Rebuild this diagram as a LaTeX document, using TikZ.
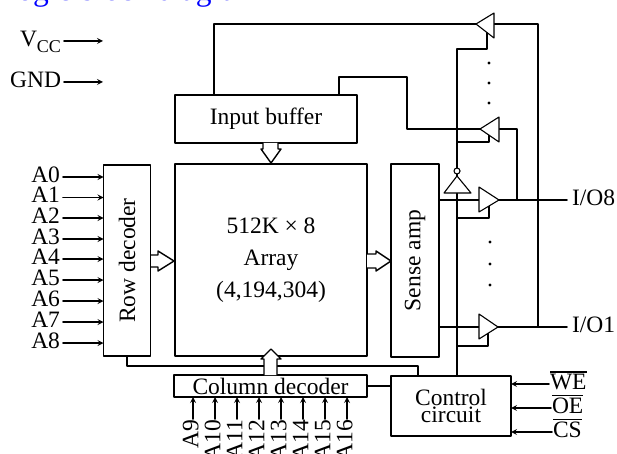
\documentclass[tikz,border=0pt]{standalone}
\usepackage{fontspec}
\setmainfont{Liberation Serif}
\newcommand{\barred}[1]{\vbox{\hrule height 1.7pt \kern 1.3pt \hbox{#1}}}
\tikzset{
	wire/.style={line width=1.6pt},
	bufshape/.style={line width=1.1pt, fill=white},
	hollow/.style={line width=1.4pt, fill=white},
	blockbox/.style={draw, line width=1.6pt, inner sep=0pt, outer sep=0pt},
	pinlabel/.style={inner sep=3pt, outer sep=0pt, text height=15.6pt, text depth=5pt},
}
\begin{document}
\begin{tikzpicture}[x=1pt, y=-1pt, font=\fontsize{23.5}{27}\selectfont, line join=round, line cap=round, >=stealth]
		\useasboundingbox (0,0) rectangle (617,454);
		\clip (0,0) rectangle (617,454);
		\node[anchor=base west, inner sep=0pt, text=blue, font=\fontsize{31.5}{33}\selectfont] (title) at (-2,1) {Logic block diagram};
		\node[blockbox, minimum width=182, minimum height=48] (inbuf) at (266,119) {Input buffer};
		\node[blockbox, minimum width=192, minimum height=192, align=center, font=\fontsize{23.5}{32}\selectfont] (array) at (271,260) {512K × 8\\Array\\(4,194,304)};
		\node[blockbox, minimum width=47, minimum height=191] (rowdec) at (127,260.5) {\rotatebox{90}{Row decoder}};
		\node[blockbox, minimum width=48, minimum height=193] (sense) at (415,260.5) {\rotatebox{90}{Sense amp}};
		\node[blockbox, minimum width=193, minimum height=22] (coldec) at (270.5,386) {Column decoder};
		\node[blockbox, minimum width=120, minimum height=60, align=center, font=\fontsize{23.5}{17}\selectfont] (ctrl) at (451,406) {Control\\circuit};
		\coordinate (T0) at (476,24);
		\coordinate (T1) at (480,129);
		\coordinate (T2) at (499,200);
		\coordinate (T3) at (498,327);
		\coordinate (E0) at (457,49);
		\coordinate (E1) at (457,142);
		\coordinate (E2) at (457,218);
		\coordinate (E3) at (457,346);
		\coordinate (N) at (457,176);
		\coordinate (W0) at (214,95);
		\coordinate (W1) at (339,95);
		\coordinate (R) at (418,366);
		\node[pinlabel, anchor=east] (vcc) at (64,41) {V\raisebox{-6pt}{\fontsize{18}{18}\selectfont CC}};
		\node[pinlabel, anchor=east] (gnd) at (64,82) {GND};
		\draw[wire,->] (vcc.east) -- ++(39,0);
		\draw[wire,->] (gnd.east) -- ++(39,0);
		\node[pinlabel, anchor=east] (a0) at (63,177) {A0};
		\node[pinlabel, anchor=east] (a1) at (63,197.5) {A1};
		\node[pinlabel, anchor=east] (a2) at (63,218) {A2};
		\node[pinlabel, anchor=east] (a3) at (63,239) {A3};
		\node[pinlabel, anchor=east] (a4) at (63,259) {A4};
		\node[pinlabel, anchor=east] (a5) at (63,280) {A5};
		\node[pinlabel, anchor=east] (a6) at (63,301) {A6};
		\node[pinlabel, anchor=east] (a7) at (63,322) {A7};
		\node[pinlabel, anchor=east] (a8) at (63,343) {A8};
		\draw[wire,->] (a0.east) -- (a0.east -| rowdec.west);
		\draw[wire,->] (a1.east) -- (a1.east -| rowdec.west);
		\draw[wire,->] (a2.east) -- (a2.east -| rowdec.west);
		\draw[wire,->] (a3.east) -- (a3.east -| rowdec.west);
		\draw[wire,->] (a4.east) -- (a4.east -| rowdec.west);
		\draw[wire,->] (a5.east) -- (a5.east -| rowdec.west);
		\draw[wire,->] (a6.east) -- (a6.east -| rowdec.west);
		\draw[wire,->] (a7.east) -- (a7.east -| rowdec.west);
		\draw[wire,->] (a8.east) -- (a8.east -| rowdec.west);
		\node[pinlabel, inner sep=1pt, rotate=90, anchor=east] (a9) at (193,419) {A9};
		\node[pinlabel, inner sep=1pt, rotate=90, anchor=east] (a10) at (215,419) {A10};
		\node[pinlabel, inner sep=1pt, rotate=90, anchor=east] (a11) at (237,419) {A11};
		\node[pinlabel, inner sep=1pt, rotate=90, anchor=east] (a12) at (259,419) {A12};
		\node[pinlabel, inner sep=1pt, rotate=90, anchor=east] (a13) at (281,419) {A13};
		\node[pinlabel, inner sep=1pt, rotate=90, anchor=east] (a14) at (303,419) {A14};
		\node[pinlabel, inner sep=1pt, rotate=90, anchor=east] (a15) at (325,419) {A15};
		\node[pinlabel, inner sep=1pt, rotate=90, anchor=east] (a16) at (347,419) {A16};
		\draw[wire,->] (a9.east) -- (a9.east |- coldec.south);
		\draw[wire,->] (a10.east) -- (a10.east |- coldec.south);
		\draw[wire,->] (a11.east) -- (a11.east |- coldec.south);
		\draw[wire,->] (a12.east) -- (a12.east |- coldec.south);
		\draw[wire,->] (a13.east) -- (a13.east |- coldec.south);
		\draw[wire,->] (a14.east) -- (a14.east |- coldec.south);
		\draw[wire,->] (a15.east) -- (a15.east |- coldec.south);
		\draw[wire,->] (a16.east) -- (a16.east |- coldec.south);
		\node[pinlabel, inner sep=1pt, anchor=west] (we) at (549,384) {\barred{WE}};
		\node[pinlabel, inner sep=1pt, anchor=west] (oe) at (551,408) {\barred{OE}};
		\node[pinlabel, inner sep=1pt, anchor=west] (cs) at (552,432) {\barred{CS}};
		\draw[wire,->] (we.west) -- (we.west -| ctrl.east);
		\draw[wire,->] (oe.west) -- (oe.west -| ctrl.east);
		\draw[wire,->] (cs.west) -- (cs.west -| ctrl.east);
		\node[pinlabel, inner sep=5pt, anchor=west] (io8) at (567,200) {I/O8};
		\node[pinlabel, inner sep=5pt, anchor=west] (io1) at (567,327) {I/O1};
		\draw[wire] (rowdec.south) |- (R) -- (R |- ctrl.north);
		\draw[wire] (coldec.east) -- (coldec.east -| ctrl.west);
		\draw[wire] (T0) -| (W0);
		\draw[wire] (T1) -| (407,77) -| (W1);
		\draw[wire] (io8.west) -- (io8.west -| sense.east);
		\draw[wire] (io1.west) -- (io1.west -| sense.east);
		\draw[wire] (T0) -- (494,24) -| (538,327);
		\draw[wire] (T1) -- (499,129) -| (517,200);
		\draw[wire] (ctrl.north -| E0) -- (E0) -| (487,30);
		\draw[wire] (E1) -| (489,135);
		\draw[wire] (E2) -| (489,206);
		\draw[wire] (E3) -| (488,333);
		\draw[bufshape] (T0) -- (494,13) -- (494,38) -- cycle;
		\draw[bufshape] (T1) -- (499,117) -- (499,142) -- cycle;
		\draw[bufshape] (T2) -- (479,187) -- (479,212) -- cycle;
		\draw[bufshape] (T3) -- (479,314) -- (479,339) -- cycle;
		\draw[bufshape] (N) -- (444,193) -- (471,193) -- cycle;
		\draw[bufshape] (457,171) circle(3);
		\fill (489,63) circle(1.6);
		\fill (489,83) circle(1.6);
		\fill (489,103) circle(1.6);
		\fill (490,242) circle(1.6);
		\fill (490,264) circle(1.6);
		\fill (490,285) circle(1.6);
		\draw[hollow] (263,143) -- (263,149) -- (261,149) -- (271,163) -- (281,149) -- (278,149) -- (278,143);
		\draw[hollow] (151,255) -- (158,255) -- (158,251) -- (174,261) -- (158,271) -- (158,267) -- (151,267);
		\draw[hollow] (367,254) -- (376,254) -- (376,251) -- (391,261) -- (376,271) -- (376,268) -- (367,268);
		\draw[hollow] (264,375) -- (264,359) -- (261,359) -- (271,349) -- (281,359) -- (277,359) -- (277,375);
		\end{tikzpicture}
\end{document}
